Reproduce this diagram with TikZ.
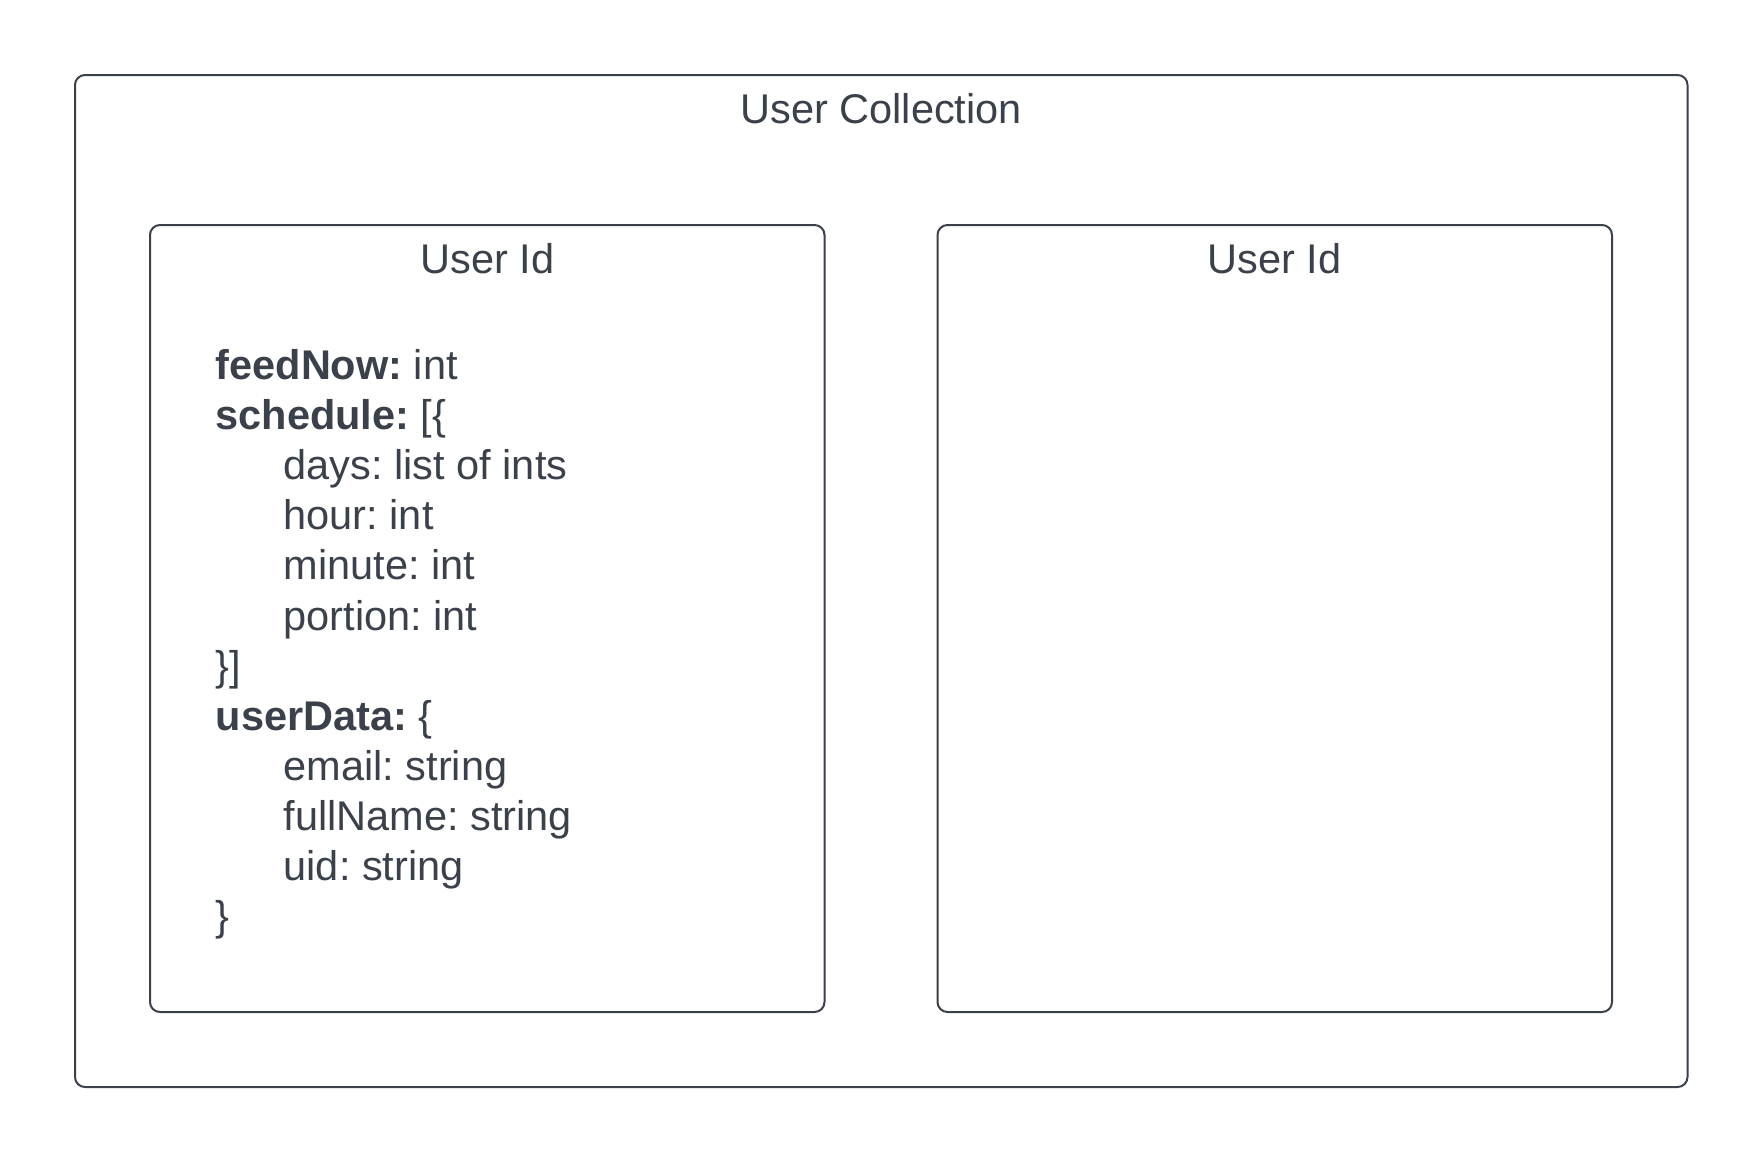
\documentclass[tikz,border=0pt]{standalone}
\usepackage{fontspec}
\setmainfont{Liberation Sans}
\definecolor{ink}{HTML}{3A414A}
\begin{document}
\frenchspacing
\begin{tikzpicture}[x=1pt,y=-1pt,
  box/.style={draw=ink, line width=2pt, rounded corners=10pt, inner sep=0pt},
  txt/.style={text=ink, inner sep=0pt, font=\fontsize{41.5}{50}\selectfont},
  lw/.style={txt, anchor=base west},
  ttl/.style={txt, anchor=base}]
\useasboundingbox (0,0) rectangle (1763,1163);
\fill[white] (0,0) rectangle (1763,1163);
\node[box, minimum width=1612.5pt, minimum height=1012pt] (outer) at (881.25,581) {};
\node[box, minimum width=674.5pt, minimum height=787pt] (left) at (487.25,618.5) {};
\node[box, minimum width=674.5pt, minimum height=787pt] (right) at (1274.75,618.5) {};
\node[ttl] (title) at (881.25,123.3) {User Collection};
\node[ttl] (lid) at (487.25,273.5) {User Id};
\node[ttl] (rid) at (1274.75,273.5) {User Id};
\node[lw] (l1) at (215.5,379.5) {\textbf{feedNow:} int};
\node[lw] (l2) at (215.5,429.6) {\textbf{schedule:} [\{};
\node[lw] (l3) at (283.5,479.7) {days: list of ints};
\node[lw] (l4) at (283.5,529.8) {hour: int};
\node[lw] (l5) at (283.5,579.9) {minute: int};
\node[lw] (l6) at (283.5,630.0) {portion: int};
\node[lw] (l7) at (215.5,680.1) {\}]};
\node[lw] (l8) at (215.5,730.2) {\textbf{userData:} \{};
\node[lw] (l9) at (283.5,780.3) {email: string};
\node[lw] (l10) at (283.5,830.4) {fullName: string};
\node[lw] (l11) at (283.5,880.5) {uid: string};
\node[lw] (l12) at (215.5,930.6) {\}};
\end{tikzpicture}
\end{document}
